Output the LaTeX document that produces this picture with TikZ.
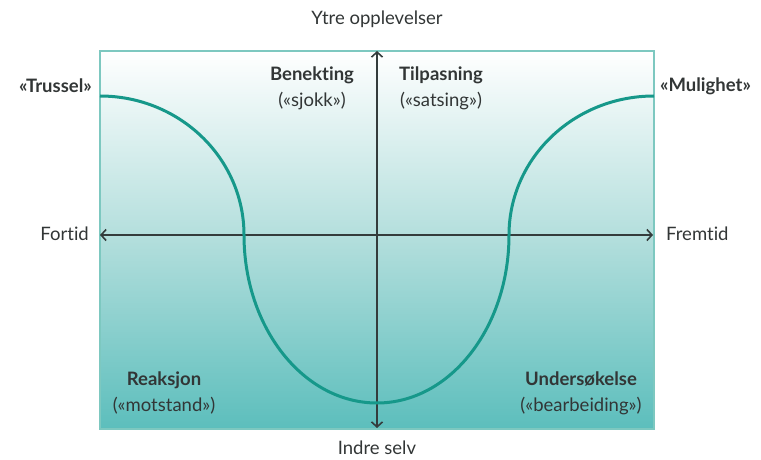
\documentclass[tikz,border=0pt]{standalone}
\usepackage{fontspec}
\setmainfont{Lato}[Ligatures={NoCommon}]
\usetikzlibrary{arrows.meta}
\definecolor{curvec}{RGB}{22,152,138}
\definecolor{framec}{RGB}{125,200,192}
\definecolor{bottomc}{RGB}{92,190,188}
\definecolor{axisc}{RGB}{52,60,60}
\definecolor{textc}{RGB}{50,54,54}
\tikzset{
  lbl/.style={inner sep=0pt, text=textc, font=\fontsize{18.5}{21}\selectfont},
  blbl/.style={lbl, font=\fontsize{18.5}{21}\selectfont\bfseries},
  twol/.style={inner sep=0pt, text=textc, align=center, font=\fontsize{18.5}{26}\selectfont},
  axis/.style={draw=axisc, line width=1.6pt, {Straight Barb[length=5pt,width=11pt,line width=1.6pt]}-{Straight Barb[length=5pt,width=11pt,line width=1.6pt]}},
  curve/.style={draw=curvec, line width=3pt}
}
\begin{document}
\begin{tikzpicture}[x=1pt,y=1pt]
\useasboundingbox (0,0) rectangle (761,459);
% box
\shade[top color=white, bottom color=bottomc, middle color={rgb,255:red,178;green,222;blue,220}] (100,30) rectangle (654,408);
\draw[framec, line width=1.5pt] (100,30) rectangle (654,408);
% axes
\coordinate (L) at (100,224);
\coordinate (R) at (653,224);
\coordinate (T) at (377,408);
\coordinate (B) at (377,31);
\draw[axis] (L) -- (R);
\draw[axis] (B) -- (T);
% curve
\path[curve] (100,363) arc[start angle=90, end angle=0, x radius=144, y radius=139]
  arc[start angle=180, end angle=270, x radius=133, y radius=168]
  arc[start angle=270, end angle=360, x radius=132, y radius=168]
  arc[start angle=180, end angle=90, x radius=145, y radius=139];
% labels
\node[lbl] (ytre) at (377,440) {Ytre opplevelser};
\node[lbl] (indre) at (377,11) {Indre selv};
\node[lbl, anchor=east] (fortid) at (89,225) {Fortid};
\node[lbl, anchor=west] (fremtid) at (666,225) {Fremtid};
\node[blbl, anchor=east] (trussel) at (92,373) {«Trussel»};
\node[blbl, anchor=west] (mulighet) at (660,373) {«Mulighet»};
\node[twol] (benekting) at (312,371) {\textbf{Benekting}\\(«sjokk»)};
\node[twol] (tilpasning) at (441,371) {\textbf{Tilpasning}\\(«satsing»)};
\node[twol] (reaksjon) at (164,66) {\textbf{Reaksjon}\\(«motstand»)};
\node[twol] (undersokelse) at (581,66) {\textbf{Undersøkelse}\\(«bearbeiding»)};
\end{tikzpicture}
\end{document}
